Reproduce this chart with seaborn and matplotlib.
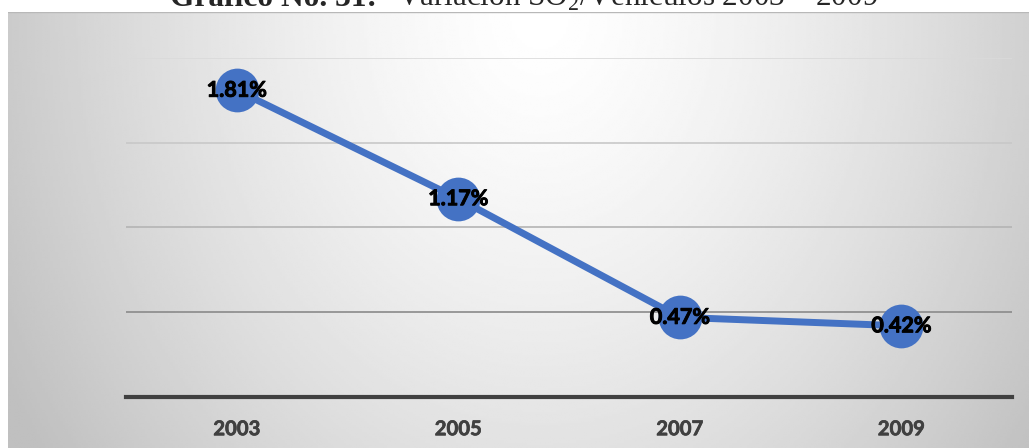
import numpy as np
import pandas as pd
import matplotlib
matplotlib.use("Agg")
import matplotlib.pyplot as plt
import matplotlib.patheffects as pe
import seaborn as sns

years = ["2003", "2005", "2007", "2009"]
so2_share = [1.81, 1.17, 0.47, 0.42]
grid_levels = [0.5, 1.0, 1.5, 2.0]

sns.set_theme(style="white")
plt.rcParams["font.family"] = ["Lato", "DejaVu Sans"]
plt.rcParams["mathtext.fontset"] = "custom"
plt.rcParams["mathtext.rm"] = "Liberation Serif"

W, H = 1029, 448
fig = plt.figure(figsize=(W / 100, H / 100), dpi=100)
fig.patch.set_facecolor("white")

# radial grey background of the chart box
bg = fig.add_axes([8 / W, 0, (W - 8) / W, (H - 12) / H])
xx, yy = np.meshgrid(np.linspace(8, W, 400), np.linspace(12, H, 200))
r = np.sqrt(((xx - 540) / 580) ** 2 + ((yy - 12) / 720) ** 2)
shade = 1 - 0.23 * np.clip(r, 0, 1.05) ** 1.4
bg.imshow(shade, cmap="gray", vmin=0, vmax=1, aspect="auto",
          extent=[8, W, H, 12], interpolation="bilinear")
bg.set_axis_off()
bg.axhline(12, color="#b8b8b8", lw=1)

ax = fig.add_axes([126 / W, 51 / H, 886 / W, 339 / H])
ax.patch.set_alpha(0)

df = pd.DataFrame({"year": years, "share": so2_share})
sns.lineplot(data=df, x="year", y="share", ax=ax, color="#4472C4",
             linewidth=5, marker="o", markersize=31.5, markeredgewidth=0)

bold_fx = [pe.withStroke(linewidth=0.7, foreground="black")]
for i, v in enumerate(so2_share):
    ax.text(i, v, f"{v:.2f}%", ha="center", va="center", fontsize=15.5,
            fontweight="bold", color="black", zorder=5, path_effects=bold_fx)

ax.set_xlim(-0.5, len(years) - 0.5)
ax.set_ylim(0, 2.0)
ax.set_yticks([])
grid_colors = ["#8a8a8a", "#b4b4b4", "#c8c8c8", "#dadada"]
for lvl, c in zip(grid_levels, grid_colors):
    ax.axhline(lvl, color=c, lw=1.2, zorder=0)

for side in ["top", "right", "left"]:
    ax.spines[side].set_visible(False)
ax.spines["bottom"].set_color("#404040")
ax.spines["bottom"].set_linewidth(3)
ax.tick_params(axis="x", length=0, pad=16, labelsize=14.6, labelcolor="#404040")
for lab in ax.get_xticklabels():
    lab.set_fontweight("bold")
    lab.set_path_effects([pe.withStroke(linewidth=0.5, foreground="#404040")])
ax.set_xlabel("")
ax.set_ylabel("")

# title, partly cut off at the top edge as in the source
t1 = fig.text(170 / W, 1 - 6 / H, "Gráfico No. 31:", family="Liberation Serif",
              fontweight="bold", fontsize=23, va="baseline", ha="left")
t2 = fig.text(397 / W, 1 - 6 / H, r"Variación SO$_\mathregular{2}$/Vehículos 2003 – 2009",
              family="Liberation Serif", fontsize=23, va="baseline", ha="left")
renderer = fig.canvas.get_renderer()
for t, target in [(t1, 207), (t2, 483)]:
    w = t.get_window_extent(renderer).width
    t.set_fontsize(23 * target / w)

fig.savefig("out.png", dpi=100)
